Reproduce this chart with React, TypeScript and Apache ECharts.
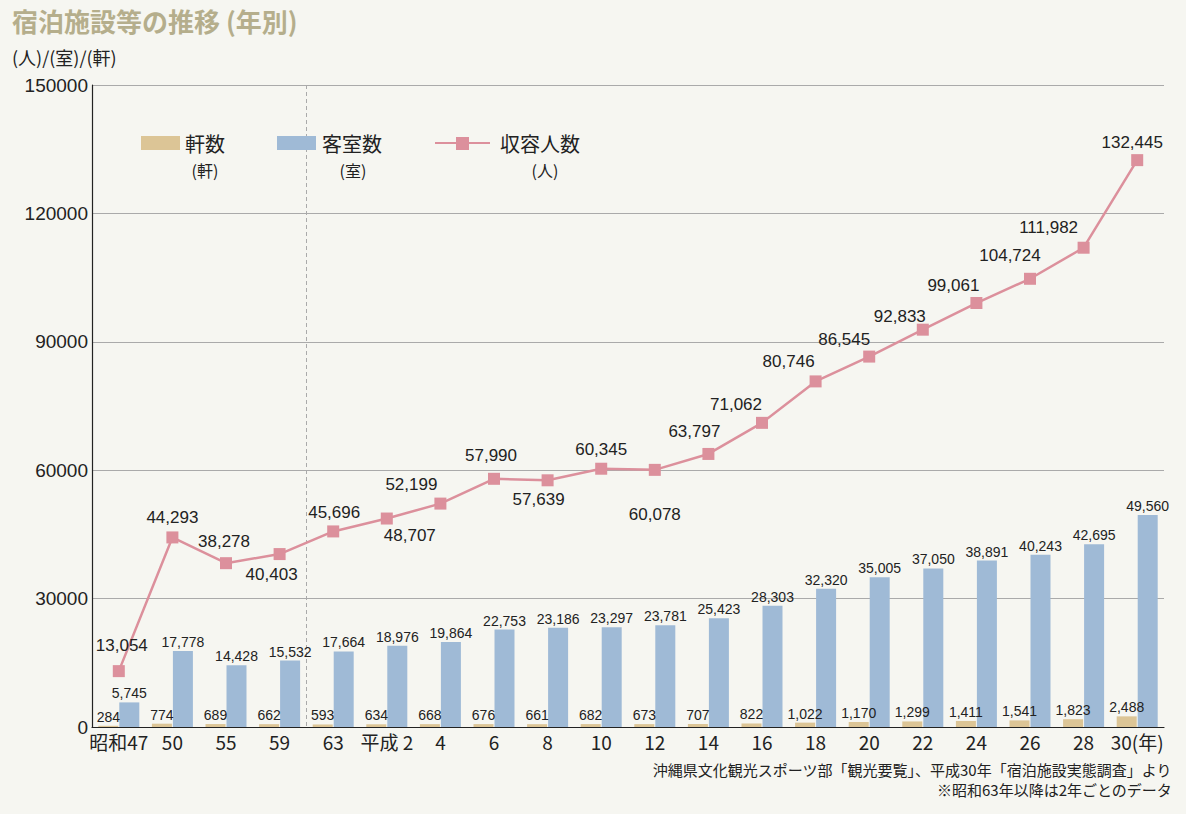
import React, { useEffect, useRef } from "react";
import * as echarts from "echarts";

const categories = ["昭和47", "50", "55", "59", "63", "平成 2", "4", "6", "8", "10", "12", "14", "16", "18", "20", "22", "24", "26", "28", "30(年)"];
const facilities = [284, 774, 689, 662, 593, 634, 668, 676, 661, 682, 673, 707, 822, 1022, 1170, 1299, 1411, 1541, 1823, 2488];
const rooms = [5745, 17778, 14428, 15532, 17664, 18976, 19864, 22753, 23186, 23297, 23781, 25423, 28303, 32320, 35005, 37050, 38891, 40243, 42695, 49560];
const capacity = [13054, 44293, 38278, 40403, 45696, 48707, 52199, 57990, 57639, 60345, 60078, 63797, 71062, 80746, 86545, 92833, 99061, 104724, 111982, 132445];

// label offsets for the line labels (layout only)
const lineLabelOffsets: [number, number][] = [
  [3, -26], [0, -20], [-2, -22], [-8, 20], [1, -19], [23, 17], [-29, -19], [-3, -23], [-9, 19], [0, -19], [0, 45], [-14, -22], [-26, -18], [-27, -20], [-25, -17], [-23, -13], [-23, -18], [-20, -23], [-35, -20], [-5, -18],
];

const fmt = (v: number) => v.toLocaleString("en-US");

export default function App() {
  const ref = useRef<HTMLDivElement>(null);
  useEffect(() => {
    if (!ref.current) return;
    const chart = echarts.init(ref.current, null, { renderer: "svg" });
    const numFont = "'Liberation Sans', 'Noto Sans CJK JP', sans-serif";
    const jpFont = "'Noto Sans CJK JP', sans-serif";
    const narrowFont = "'Liberation Sans', sans-serif";
    const barLabel = {
      show: true,
      position: "top",
      distance: 2,
      color: "#222",
      fontSize: 14,
      fontFamily: narrowFont,
      formatter: (p: any) => fmt(p.value),
    };
    chart.setOption({
      animation: false,
      backgroundColor: "#f6f6f1",
      grid: { left: 92, right: 22, top: 85, bottom: 87 },
      xAxis: {
        type: "category",
        data: categories,
        boundaryGap: true,
        axisLine: { lineStyle: { color: "#222", width: 1.2 } },
        axisTick: { inside: true, length: 6, lineStyle: { color: "#222" } },
        axisLabel: {
          color: "#222",
          fontSize: 19,
          fontFamily: jpFont,
          margin: 5,
          interval: 0,
        },
      },
      yAxis: {
        type: "value",
        min: 0,
        max: 150000,
        interval: 30000,
        axisLine: { show: true, lineStyle: { color: "#222", width: 1.2 } },
        axisTick: { show: false },
        axisLabel: { color: "#222", fontSize: 19, fontFamily: numFont, margin: 4, formatter: (v: number) => String(v) },
        splitLine: { lineStyle: { color: "#aaa", width: 1 } },
      },
      series: [
        {
          name: "軒数",
          type: "bar",
          data: facilities,
          barWidth: 20,
          barGap: "5%",
          itemStyle: { color: "#dcc596" },
          label: barLabel,
        },
        {
          name: "客室数",
          type: "bar",
          data: rooms,
          barWidth: 20,
          itemStyle: { color: "#9fbad6" },
          label: barLabel,
        },
        {
          name: "収容人数",
          type: "line",
          data: capacity.map((v, i) => ({
            value: v,
            label: { offset: lineLabelOffsets[i] },
          })),
          symbol: "rect",
          symbolSize: 12,
          lineStyle: { color: "#dc909c", width: 2.5 },
          itemStyle: { color: "#dc909c" },
          z: 5,
          label: {
            show: true,
            position: "inside",
            color: "#222",
            fontSize: 17,
            fontFamily: numFont,
            formatter: (p: any) => fmt(p.value),
          },
        },
      ],
    });
    const xa = chart.convertToPixel({ xAxisIndex: 0 }, 3) as number;
    const xb = chart.convertToPixel({ xAxisIndex: 0 }, 4) as number;
    const xd = Math.round((xa + xb) / 2) + 0.5;
    const main = (x: number, text: string) => ({
      type: "text", x, y: 143,
      style: { text, fill: "#222", font: `20px ${jpFont}`, verticalAlign: "middle" },
    });
    const sub = (x: number, text: string) => ({
      type: "text", x, y: 170,
      style: { text, fill: "#222", font: `16px ${jpFont}`, align: "center", verticalAlign: "middle" },
    });
    chart.setOption({
      graphic: [
        { type: "line", z: 0, shape: { x1: xd, y1: 85, x2: xd, y2: 727 }, style: { stroke: "#aaa", lineWidth: 1, lineDash: [4, 3] } },
        { type: "text", left: 12, top: 7, style: { text: "宿泊施設等の推移 (年別)", fill: "#b5ae8c", font: `bold 26px ${jpFont}` } },
        { type: "text", left: 12, top: 48, style: { text: "(人)/(室)/(軒)", fill: "#222", font: `18px ${jpFont}` } },
        // legend
        { type: "rect", shape: { x: 141, y: 136, width: 39, height: 14 }, style: { fill: "#dcc596" } },
        main(185, "軒数"),
        sub(205, "(軒)"),
        { type: "rect", shape: { x: 277, y: 136, width: 39, height: 14 }, style: { fill: "#9fbad6" } },
        main(322, "客室数"),
        sub(353, "(室)"),
        { type: "line", shape: { x1: 435, y1: 143, x2: 490, y2: 143 }, style: { stroke: "#dc909c", lineWidth: 2 } },
        { type: "rect", shape: { x: 456, y: 137, width: 13, height: 13 }, style: { fill: "#dc909c" } },
        main(500, "収容人数"),
        sub(545, "(人)"),
        // source
        { type: "text", right: 14, top: 762, style: { text: "沖縄県文化観光スポーツ部「観光要覧」、平成30年「宿泊施設実態調査」より", fill: "#222", font: `15px ${jpFont}` } },
        { type: "text", right: 14, top: 782, style: { text: "※昭和63年以降は2年ごとのデータ", fill: "#222", font: `15px ${jpFont}` } },
      ],
    });
    return () => chart.dispose();
  }, []);
  return <div ref={ref} style={{ position: "fixed", left: 0, top: 0, width: 1186, height: 814 }} />;
}
